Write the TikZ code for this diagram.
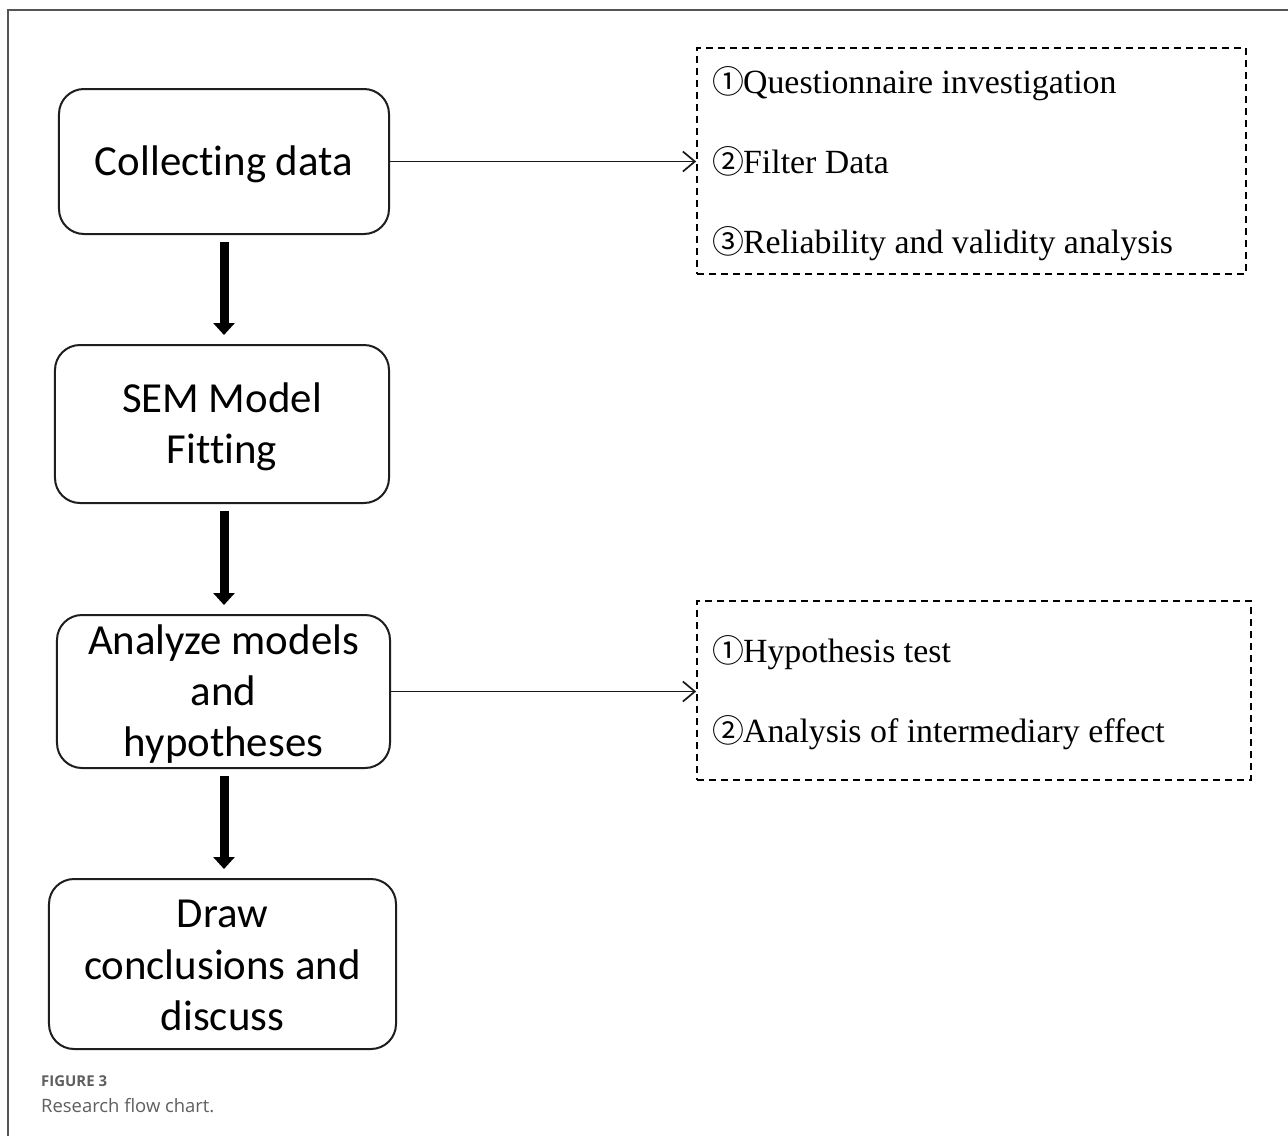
\documentclass[tikz,border=0pt]{standalone}
\usepackage{fontspec}
\setmainfont{Liberation Serif}
\newfontfamily\boxfont[Ligatures={NoCommon}]{Carlito}
\newfontfamily\symfont{Noto Sans CJK SC}
\newfontfamily\capfont{Open Sans}
\usetikzlibrary{arrows.meta}

% circled item numbers
\newcommand\itemnum[1]{{\symfont\fontsize{32}{34}\selectfont #1}\kern-1bp}

\definecolor{framegray}{HTML}{555555}
\definecolor{capgray}{HTML}{5F5F5F}
\definecolor{boxline}{HTML}{1E1E1E}

\tikzset{
  stepbox/.style={draw=boxline, line width=2bp, rounded corners=25bp,
    inner sep=0pt},
  steptext/.style={align=center, inner sep=0pt,
    font=\boxfont\fontsize{43}{51.5}\selectfont},
  notebox/.style={draw=black, line width=1.6bp, dash pattern=on 7bp off 5bp,
    inner sep=0pt},
  noteitem/.style={anchor=base west, inner sep=0pt,
    font=\fontsize{34}{40}\selectfont},
  flowarrow/.style={line width=9bp, -{Triangle[length=12bp,width=21bp]},
    shorten <=7bp, shorten >=9bp},
  linkarrow/.style={line width=1.7bp, draw=black!90,
    -{Straight Barb[length=12bp,width=20bp]}},
  frameline/.style={draw=framegray, line width=1.5bp},
  captext/.style={anchor=base west, inner sep=0pt, text=capgray}
}

\begin{document}
\begin{tikzpicture}[x=1bp, y=-1bp]
\useasboundingbox (0,0) rectangle (1288,1136);
\fill[white] (0,0) rectangle (1288,1136);

% outer frame
\draw[frameline] (8,1136) -- (8,10) -- (1288,10);

% main steps
\node[stepbox, minimum width=330bp, minimum height=145bp] (c1) at (224,161.5) {};
\node[stepbox, minimum width=334bp, minimum height=158bp] (c2) at (222,424) {};
\node[stepbox, minimum width=333bp, minimum height=153bp] (c3) at (223.5,691.5) {};
\node[stepbox, minimum width=347bp, minimum height=170bp] (c4) at (222.5,964) {};

\node[steptext] (t1) at ([yshift=-3bp]c1.center) {Collecting data};
\node[steptext] (t2) at ([yshift=-3bp]c2.center) {SEM Model\\Fitting};
\node[steptext] (t3) at ([yshift=-2.5bp]c3.center) {Analyze models\\and\\hypotheses};
\node[steptext] (t4) at ([yshift=-1.5bp]c4.center) {Draw\\conclusions and\\discuss};

% vertical flow
\draw[flowarrow] (c1.south) -- (c1.south |- c2.north);
\draw[flowarrow] (c2.south -| c1.south) -- (c1.south |- c3.north);
\draw[flowarrow] (c3.south -| c1.south) -- (c1.south |- c4.north);

% note boxes
\node[notebox, minimum width=549bp, minimum height=226bp] (d1) at (971.5,161) {};
\node[notebox, minimum width=554bp, minimum height=179bp] (d2) at (974,690.5) {};

\node[noteitem] (n11) at (712,93)  {\itemnum{①}Questionnaire investigation};
\node[noteitem] (n12) at (712,173) {\itemnum{②}Filter Data};
\node[noteitem] (n13) at (712,253) {\itemnum{③}Reliability and validity analysis};

\node[noteitem] (n21) at (712,662) {\itemnum{①}Hypothesis test};
\node[noteitem] (n22) at (712,742) {\itemnum{②}Analysis of intermediary effect};

% links to the notes
\draw[linkarrow] (c1.east) -- (c1.east -| d1.west);
\draw[linkarrow] (c3.east) -- (c3.east -| d2.west);

% caption
\node[captext, font=\capfont\bfseries\fontsize{15}{18}\selectfont] (cap1) at (41,1086) {FIGURE 3};
\node[captext, font=\capfont\fontsize{18.5}{22}\selectfont] (cap2) at (41,1112) {Research flow chart.};
\end{tikzpicture}
\end{document}
